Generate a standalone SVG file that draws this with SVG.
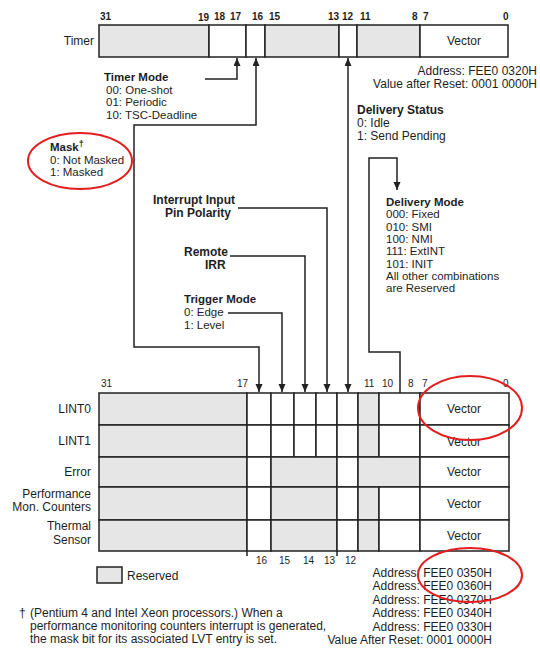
<svg xmlns="http://www.w3.org/2000/svg" width="540" height="652" viewBox="0 0 540 652">
<style>
text{font-family:"Liberation Sans",Arial,sans-serif;font-size:12px;fill:#1e1e1e}
.s text{font-size:11.5px}
.b{font-weight:bold}
.n{font-size:10px;font-weight:bold}
.nr{font-size:10px}
.r{text-anchor:end}
.m{text-anchor:middle}
.g{fill:#e6e6e6;stroke:#222;stroke-width:1.5}
.w{fill:#fff;stroke:#222;stroke-width:1.5}
.c{fill:none;stroke:#222;stroke-width:1.5}
.red{fill:none;stroke:#e41e1e;stroke-width:2}
</style>
<defs>
<marker id="a" markerUnits="userSpaceOnUse" markerWidth="8" markerHeight="8" refX="8" refY="3.5" orient="auto-start-reverse">
<path d="M0,0 L8,3.5 L0,7 z" fill="#222"/>
</marker>
</defs>
<rect width="540" height="652" fill="#fff"/>

<g id="timer">
<text class="r" x="94" y="45">Timer</text>
<rect class="g" x="99" y="25" width="110" height="32"/>
<rect class="w" x="209" y="25" width="37" height="32"/>
<rect class="w" x="246" y="25" width="19" height="32"/>
<rect class="g" x="265" y="25" width="74" height="32"/>
<rect class="w" x="339" y="25" width="18" height="32"/>
<rect class="g" x="357" y="25" width="63" height="32"/>
<rect class="w" x="420" y="25" width="88" height="32"/>
<text class="m" x="464" y="45">Vector</text>
<text class="n" x="100" y="20">31</text>
<text class="n" x="198" y="21">19</text>
<text class="n" x="214" y="20">18</text>
<text class="n" x="230" y="20">17</text>
<text class="n" x="252" y="20">16</text>
<text class="n" x="269" y="20">15</text>
<text class="n" x="328" y="20">13</text>
<text class="n" x="342" y="20">12</text>
<text class="n" x="360" y="20">11</text>
<text class="n" x="412" y="20">8</text>
<text class="n" x="423" y="20">7</text>
<text class="n" x="503" y="20">0</text>
<text class="r" x="537" y="75">Address: FEE0 0320H</text>
<text class="r" x="537" y="88">Value after Reset: 0001 0000H</text>
</g>

<g id="timer-mode" class="s">
<text class="b" x="104" y="81">Timer Mode</text>
<text x="106" y="93.5">00: One-shot</text>
<text x="106" y="106">01: Periodic</text>
<text x="106" y="118.5">10: TSC-Deadline</text>
</g>

<g id="mask" class="s">
<text class="b" x="50" y="151">Mask<tspan font-size="9" dy="-4">†</tspan></text>
<text x="50" y="163.5">0: Not Masked</text>
<text x="50" y="176">1: Masked</text>
</g>

<g id="delivery-status">
<text class="b" x="357" y="114">Delivery Status</text>
<text x="357" y="127">0: Idle</text>
<text x="357" y="140">1: Send Pending</text>
</g>

<g id="delivery-mode" class="s">
<text class="b" x="386" y="206">Delivery Mode</text>
<text x="386" y="218.3">000: Fixed</text>
<text x="386" y="230.6">010: SMI</text>
<text x="386" y="242.9">100: NMI</text>
<text x="386" y="255.2">111: ExtINT</text>
<text x="386" y="267.5">101: INIT</text>
<text x="386" y="279.8">All other combinations</text>
<text x="386" y="292.1">are Reserved</text>
</g>

<g id="pin-polarity">
<text class="b" x="153" y="204">Interrupt Input</text>
<text class="b" x="165" y="217">Pin Polarity</text>
</g>

<g id="remote-irr">
<text class="b" x="184" y="256">Remote</text>
<text class="b" x="205" y="269">IRR</text>
</g>

<g id="trigger-mode" class="s">
<text class="b" x="184" y="303">Trigger Mode</text>
<text x="184" y="316.3">0: Edge</text>
<text x="184" y="328.8">1: Level</text>
</g>

<g id="connectors">
<polyline class="c" points="205,79 237,79 237,58" marker-end="url(#a)"/>
<polyline class="c" points="256,58 256,125 134,125 134,347 259,347 259,392" marker-start="url(#a)" marker-end="url(#a)"/>
<line class="c" x1="348" y1="58" x2="348" y2="392" marker-start="url(#a)" marker-end="url(#a)"/>
<polyline class="c" points="238,208 327,208 327,392" marker-end="url(#a)"/>
<polyline class="c" points="230,256 305,256 305,392" marker-end="url(#a)"/>
<polyline class="c" points="228,313 282,313 282,392" marker-end="url(#a)"/>
<polyline class="c" points="400,393 400,352 369,352 369,158 397,158 397,190" marker-end="url(#a)"/>
</g>

<g id="lvt-table">
<text class="nr" x="101" y="387">31</text>
<text class="nr" x="237" y="387">17</text>
<text class="nr" x="364" y="387">11</text>
<text class="nr" x="382" y="387">10</text>
<text class="nr" x="408" y="387">8</text>
<text class="nr" x="422" y="387">7</text>
<text class="nr" x="503" y="387">0</text>

<g id="lint0">
<text class="r" x="91" y="413">LINT0</text>
<rect class="g" x="99" y="393" width="148" height="32"/>
<rect class="w" x="247" y="393" width="24" height="32"/>
<rect class="w" x="271" y="393" width="23" height="32"/>
<rect class="w" x="294" y="393" width="22" height="32"/>
<rect class="w" x="316" y="393" width="21" height="32"/>
<rect class="w" x="337" y="393" width="21" height="32"/>
<rect class="g" x="358" y="393" width="21" height="32"/>
<rect class="w" x="379" y="393" width="41" height="32"/>
<rect class="w" x="420" y="393" width="89" height="32"/>
<text class="m" x="464" y="413">Vector</text>
</g>
<g id="lint1">
<text class="r" x="91" y="445">LINT1</text>
<rect class="g" x="99" y="425" width="148" height="32"/>
<rect class="w" x="247" y="425" width="24" height="32"/>
<rect class="w" x="271" y="425" width="23" height="32"/>
<rect class="w" x="294" y="425" width="22" height="32"/>
<rect class="w" x="316" y="425" width="21" height="32"/>
<rect class="w" x="337" y="425" width="21" height="32"/>
<rect class="g" x="358" y="425" width="21" height="32"/>
<rect class="w" x="379" y="425" width="41" height="32"/>
<rect class="w" x="420" y="425" width="89" height="32"/>
<text class="m" x="464" y="446">Vector</text>
</g>
<g id="error">
<text class="r" x="91" y="476">Error</text>
<rect class="g" x="99" y="457" width="148" height="30"/>
<rect class="w" x="247" y="457" width="24" height="30"/>
<rect class="g" x="271" y="457" width="66" height="30"/>
<rect class="w" x="337" y="457" width="21" height="30"/>
<rect class="g" x="358" y="457" width="62" height="30"/>
<rect class="w" x="420" y="457" width="89" height="30"/>
<text class="m" x="464" y="476">Vector</text>
</g>
<g id="perf">
<text class="r" x="91" y="498">Performance</text>
<text class="r" x="91" y="511">Mon. Counters</text>
<rect class="g" x="99" y="487" width="148" height="33"/>
<rect class="w" x="247" y="487" width="24" height="33"/>
<rect class="g" x="271" y="487" width="66" height="33"/>
<rect class="w" x="337" y="487" width="21" height="33"/>
<rect class="g" x="358" y="487" width="21" height="33"/>
<rect class="w" x="379" y="487" width="41" height="33"/>
<rect class="w" x="420" y="487" width="89" height="33"/>
<text class="m" x="464" y="508">Vector</text>
</g>
<g id="thermal">
<text class="r" x="91" y="530">Thermal</text>
<text class="r" x="91" y="544">Sensor</text>
<rect class="g" x="99" y="520" width="148" height="31"/>
<rect class="w" x="247" y="520" width="24" height="31"/>
<rect class="g" x="271" y="520" width="66" height="31"/>
<rect class="w" x="337" y="520" width="21" height="31"/>
<rect class="g" x="358" y="520" width="21" height="31"/>
<rect class="w" x="379" y="520" width="41" height="31"/>
<rect class="w" x="420" y="520" width="89" height="31"/>
<text class="m" x="464" y="540">Vector</text>
</g>
<line class="c" x1="247" y1="551" x2="247" y2="556"/>
<line class="c" x1="337" y1="551" x2="337" y2="556"/>
<text class="nr" x="256" y="564">16</text>
<text class="nr" x="279" y="564">15</text>
<text class="nr" x="303" y="564">14</text>
<text class="nr" x="324" y="564">13</text>
<text class="nr" x="345" y="564">12</text>
</g>

<g id="legend">
<rect class="g" x="97" y="567" width="25" height="16"/>
<text x="127" y="580">Reserved</text>
</g>

<g id="addresses">
<text class="r" x="492" y="577">Address: FEE0 0350H</text>
<text class="r" x="492" y="590">Address: FEE0 0360H</text>
<text class="r" x="492" y="604">Address: FEE0 0370H</text>
<text class="r" x="492" y="617">Address: FEE0 0340H</text>
<text class="r" x="492" y="631">Address: FEE0 0330H</text>
<text class="r" x="492" y="644">Value After Reset: 0001 0000H</text>
</g>

<g id="footnote">
<text x="19" y="617">†</text>
<text x="30" y="617">(Pentium 4 and Intel Xeon processors.) When a</text>
<text x="30" y="630">performance monitoring counters interrupt is generated,</text>
<text x="30" y="643">the mask bit for its associated LVT entry is set.</text>
</g>

<g id="highlights">
<ellipse class="red" cx="80" cy="161" rx="52" ry="28"/>
<ellipse class="red" cx="470" cy="408" rx="52" ry="32"/>
<ellipse class="red" cx="470" cy="575" rx="52" ry="27"/>
</g>
</svg>
